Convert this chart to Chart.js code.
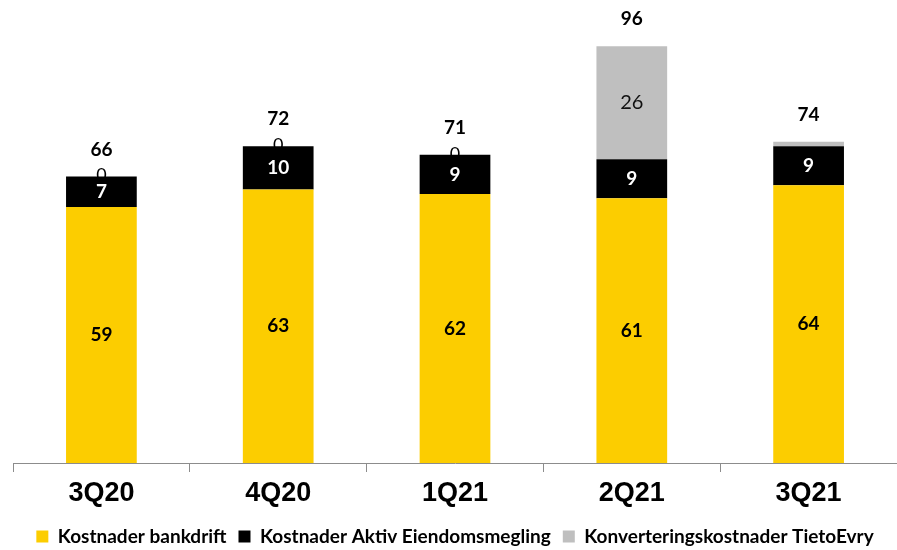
<!DOCTYPE html>
<html>
<head>
<meta charset="utf-8">
<script src="https://cdn.jsdelivr.net/npm/chart.js@4"></script>
<style>
  body { margin: 0; background: #fff; }
  #ramme { width: 897px; height: 550px; overflow: hidden; }
  #wrap { width: 897px; height: 556px; position: relative; }
</style>
</head>
<body>
<div id="ramme"><div id="wrap"><canvas id="grafico"></canvas></div></div>
<script>
const kvartaler = ['3Q20', '4Q20', '1Q21', '2Q21', '3Q21'];
const bankdrift = [59, 63, 62, 61, 64];
const aktivEiendom = [7, 10, 9, 9, 9];
const tietoEvry = [0, 0, 0, 26, 1];
const totaler = [66, 72, 71, 96, 74];

const GUL = '#FCCD00';
const SORT = '#000000';
const GRA = '#BFBFBF';

// Etiketter i segmentene og totalsum over stabelen
const etiketter = {
    id: 'etiketter',
    beforeDatasetsDraw(chart) {
        // "0"-etiketter ligger delvis bak søylene, slik som i originalen
        const ctx = chart.ctx;
        const meta = chart.getDatasetMeta(2);
        ctx.save();
        ctx.font = '18px Lato';
        ctx.fillStyle = '#000';
        ctx.textAlign = 'center';
        ctx.textBaseline = 'middle';
        meta.data.forEach((bar, i) => {
            if (tietoEvry[i] === 0) ctx.fillText('0', bar.x, bar.y - 1);
        });
        ctx.restore();
    },
    afterDatasetsDraw(chart) {
        const ctx = chart.ctx;
        ctx.save();
        ctx.textAlign = 'center';
        ctx.textBaseline = 'middle';
        chart.data.datasets.forEach((ds, d) => {
            const meta = chart.getDatasetMeta(d);
            meta.data.forEach((bar, i) => {
                const v = ds.data[i];
                if (v < 5) return;
                const y = (bar.y + bar.base) / 2;
                if (d === 0) { ctx.font = 'bold 19px Lato'; ctx.fillStyle = '#000'; }
                else if (d === 1) { ctx.font = 'bold 19px Lato'; ctx.fillStyle = '#fff'; }
                else { ctx.font = '20px Lato'; ctx.fillStyle = '#111'; }
                ctx.fillText(v, bar.x, y);
            });
        });
        const topp = chart.getDatasetMeta(2);
        ctx.font = 'bold 19px Lato';
        ctx.fillStyle = '#000';
        topp.data.forEach((bar, i) => {
            ctx.fillText(totaler[i], bar.x, bar.y - 27);
        });
        ctx.restore();
    }
};

const ctx = document.getElementById('grafico').getContext('2d');
new Chart(ctx, {
    type: 'bar',
    data: {
        labels: kvartaler,
        datasets: [
            { label: 'Kostnader bankdrift', data: bankdrift, backgroundColor: GUL },
            { label: 'Kostnader Aktiv Eiendomsmegling', data: aktivEiendom, backgroundColor: SORT },
            { label: 'Konverteringskostnader TietoEvry', data: tietoEvry, backgroundColor: GRA }
        ]
    },
    options: {
        responsive: true,
        maintainAspectRatio: false,
        animation: false,
        layout: { padding: { left: 13, right: 0, top: 29, bottom: 0 } },
        datasets: { bar: { barPercentage: 0.8, categoryPercentage: 0.5 } },
        scales: {
            x: {
                stacked: true,
                border: { color: '#8c8c8c', width: 1 },
                grid: { offset: true, drawOnChartArea: false, drawTicks: true, tickLength: 9, color: '#8c8c8c' },
                ticks: {
                    color: '#000',
                    padding: 8,
                    font: { family: '"Liberation Sans", Arial, sans-serif', size: 27, weight: 'bold', lineHeight: 1 }
                }
            },
            y: {
                stacked: true,
                display: false,
                min: 0,
                max: 100
            }
        },
        plugins: {
            legend: {
                position: 'bottom',
                labels: {
                    boxWidth: 12,
                    boxHeight: 12,
                    padding: 12,
                    color: '#000',
                    font: { family: 'Lato', size: 19, weight: 'bold' }
                }
            },
            tooltip: { enabled: false }
        }
    },
    plugins: [etiketter]
});
</script>
</body>
</html>
